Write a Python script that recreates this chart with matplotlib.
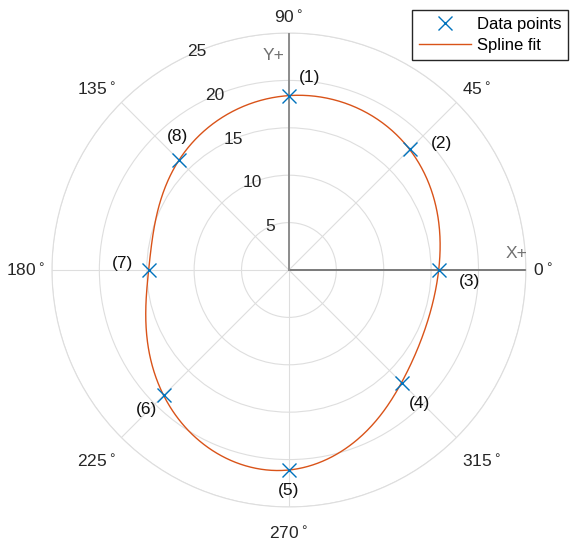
import numpy as np
import matplotlib
matplotlib.use("Agg")
import matplotlib.pyplot as plt

plt.rcParams['font.family'] = ['Liberation Sans', 'DejaVu Sans']

# data points, numbered clockwise from 90 deg
point_labels = ['(1)', '(2)', '(3)', '(4)', '(5)', '(6)', '(7)', '(8)']
point_deg = [90, 45, 0, 315, 270, 225, 180, 135]
point_r = [18.4, 18.0, 15.8, 16.8, 21.1, 18.7, 14.8, 16.4]
# label offsets (points) from each marker
label_off = [(15, 13), (23, 4), (22, -8), (13, -15), (0, -15), (-12, -10), (-19, 5), (-1, 17)]

r_ticks = [5, 10, 15, 20, 25]
theta_ticks = [0, 45, 90, 135, 180, 225, 270, 315]

blue = '#0072BD'
orange = '#D95319'
fs = 12.5


def periodic_spline(th, r, n=721):
    # periodic cubic spline r(theta) on uniform grid
    th = np.asarray(th, float)
    r = np.asarray(r, float)
    m = len(th)
    h = th[1] - th[0]
    A = np.zeros((m, m))
    b = np.zeros(m)
    for i in range(m):
        A[i, (i - 1) % m] = 1
        A[i, i] = 4
        A[i, (i + 1) % m] = 1
        b[i] = 6 / h**2 * (r[(i + 1) % m] - 2 * r[i] + r[(i - 1) % m])
    M = np.linalg.solve(A, b)
    t = np.linspace(th[0], th[0] + m * h, n)
    out = np.zeros_like(t)
    for k, tt in enumerate(t):
        i = min(int((tt - th[0]) // h), m - 1)
        j = (i + 1) % m
        a = (th[0] + (i + 1) * h - tt) / h
        c = (tt - th[0] - i * h) / h
        out[k] = (a * r[i] + c * r[j]
                  + ((a**3 - a) * M[i] + (c**3 - c) * M[j]) * h**2 / 6)
    return t, out


order = np.argsort(point_deg)
th_sorted = np.deg2rad(np.array(point_deg)[order])
r_sorted = np.array(point_r)[order]
t_fit, r_fit = periodic_spline(th_sorted, r_sorted)

fig = plt.figure(figsize=(5.71, 5.46), dpi=100)
ax = fig.add_axes([0.091, 0.0715, 0.830, 0.868], projection='polar')

ax.plot(np.deg2rad(point_deg), point_r, 'x', color=blue, ms=10, mew=1.0,
        label='Data points', zorder=5)
ax.plot(t_fit, r_fit, '-', color=orange, lw=1.0, label='Spline fit', zorder=4)

# X+ / Y+ axis lines
ax.plot([0, 0], [0, 25], color='#7a7a7a', lw=1.4, zorder=3)
ax.plot([np.pi / 2, np.pi / 2], [0, 25], color='#8c8c8c', lw=1.4, zorder=3)
ax.annotate('X+', (0, 25), xytext=(-7, 12), textcoords='offset points',
            ha='center', va='center', color='#707070', fontsize=fs,
            annotation_clip=False)
ax.annotate('Y+', (np.pi / 2, 25), xytext=(-11, -16), textcoords='offset points',
            ha='center', va='center', color='#707070', fontsize=fs,
            annotation_clip=False)

for lab, d, r, off in zip(point_labels, point_deg, point_r, label_off):
    ax.annotate(lab, (np.deg2rad(d), r), xytext=off, textcoords='offset points',
                ha='center', va='center', fontsize=fs, color='#111111')

ax.set_ylim(0, 25)
ax.set_yticks(r_ticks)
ax.set_yticklabels([])
for v in r_ticks:
    ax.text(np.deg2rad(113), v, str(v), ha='center', va='center',
            fontsize=fs, color='#262626')

ax.set_xticks(np.deg2rad(theta_ticks))
ax.set_xticklabels([])
for d in theta_ticks:
    c, s = np.cos(np.deg2rad(d)), np.sin(np.deg2rad(d))
    ha = 'left' if c > 0.3 else ('right' if c < -0.3 else 'center')
    va = 'bottom' if s > 0.3 else ('top' if s < -0.3 else 'center')
    dy = -7.5 if s < -0.3 else 0
    ax.annotate(f'{d}$^\\circ$', (np.deg2rad(d), 25.75), xytext=(0, dy),
                textcoords='offset points', ha=ha, va=va,
                fontsize=fs, color='#262626', annotation_clip=False)
ax.grid(True, color='#dedede', lw=0.8)
ax.spines['polar'].set_color('#dedede')
ax.spines['polar'].set_linewidth(0.8)

fig.legend(loc='upper right', bbox_to_anchor=(0.995, 0.982), fontsize=12,
           frameon=True, fancybox=False, edgecolor='#262626', framealpha=1,
           borderpad=0.42, handlelength=3.1, labelspacing=0.38, handletextpad=0.35,
           borderaxespad=0)

fig.savefig('out.png', dpi=100)
